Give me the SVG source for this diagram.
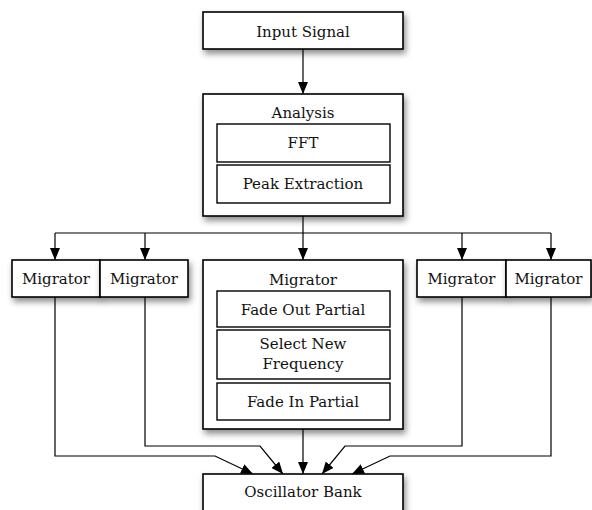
<svg xmlns="http://www.w3.org/2000/svg" width="592" height="510" viewBox="0 0 592 510">
<style>
.box{fill:#fff;stroke:#000;stroke-width:1.6}
.sub{fill:#fff;stroke:#000;stroke-width:1.4}
.t{font-family:"DejaVu Serif","Liberation Serif",serif;font-size:15px;fill:#111;text-anchor:middle}
.c{fill:none;stroke:#000;stroke-width:1.2}
</style>
<defs>
<filter id="sh" x="-20%" y="-20%" width="150%" height="160%">
<feDropShadow dx="2" dy="4" stdDeviation="3" flood-color="#000" flood-opacity="0.45"/>
</filter>
<marker id="ar" viewBox="0 0 12 10" refX="12" refY="5" markerWidth="12" markerHeight="10" markerUnits="userSpaceOnUse" orient="auto">
<path d="M0,0 L12,5 L0,10 z" fill="#000"/>
</marker>
</defs>
<g id="connectors">
<path class="c" d="M303,49 V94" marker-end="url(#ar)"/>
<path class="c" d="M303,216 V260" marker-end="url(#ar)"/>
<path class="c" d="M55,233 H551"/>
<path class="c" d="M55,233 V260" marker-end="url(#ar)"/>
<path class="c" d="M145,233 V260" marker-end="url(#ar)"/>
<path class="c" d="M462,233 V260" marker-end="url(#ar)"/>
<path class="c" d="M551,233 V260" marker-end="url(#ar)"/>
<path class="c" d="M55,297 V456 H215 L253,474" marker-end="url(#ar)"/>
<path class="c" d="M145,297 V446 H260 L283,474" marker-end="url(#ar)"/>
<path class="c" d="M303,429 V474" marker-end="url(#ar)"/>
<path class="c" d="M462,297 V446 H345 L322,474" marker-end="url(#ar)"/>
<path class="c" d="M551,297 V456 H390 L352,474" marker-end="url(#ar)"/>
</g>
<g id="input-signal">
<rect class="box" x="203" y="12" width="200" height="37" filter="url(#sh)"/>
<text class="t" x="303" y="37">Input Signal</text>
</g>
<g id="analysis">
<rect class="box" x="203" y="94" width="200" height="122" filter="url(#sh)"/>
<text class="t" x="303" y="118">Analysis</text>
<rect class="sub" x="217" y="124" width="173" height="38"/>
<text class="t" x="303" y="148">FFT</text>
<rect class="sub" x="217" y="165" width="173" height="38"/>
<text class="t" x="303" y="189">Peak Extraction</text>
</g>
<g id="migrator-1">
<rect class="box" x="12" y="260" width="88" height="37" filter="url(#sh)"/>
<text class="t" x="56" y="284">Migrator</text>
</g>
<g id="migrator-2">
<rect class="box" x="100" y="260" width="88" height="37" filter="url(#sh)"/>
<text class="t" x="144" y="284">Migrator</text>
</g>
<g id="migrator-center">
<rect class="box" x="203" y="260" width="200" height="169" filter="url(#sh)"/>
<text class="t" x="303" y="285">Migrator</text>
<rect class="sub" x="217" y="291" width="173" height="36"/>
<text class="t" x="303" y="315">Fade Out Partial</text>
<rect class="sub" x="217" y="330" width="173" height="49"/>
<text class="t" x="303" y="349">Select New</text>
<text class="t" x="303" y="369">Frequency</text>
<rect class="sub" x="217" y="383" width="173" height="37"/>
<text class="t" x="303" y="407">Fade In Partial</text>
</g>
<g id="migrator-3">
<rect class="box" x="417" y="260" width="89" height="37" filter="url(#sh)"/>
<text class="t" x="461.5" y="284">Migrator</text>
</g>
<g id="migrator-4">
<rect class="box" x="506" y="260" width="85" height="37" filter="url(#sh)"/>
<text class="t" x="548.5" y="284">Migrator</text>
</g>
<g id="oscillator-bank">
<rect class="box" x="203" y="474" width="200" height="45" filter="url(#sh)"/>
<text class="t" x="303" y="497">Oscillator Bank</text>
</g>
</svg>
